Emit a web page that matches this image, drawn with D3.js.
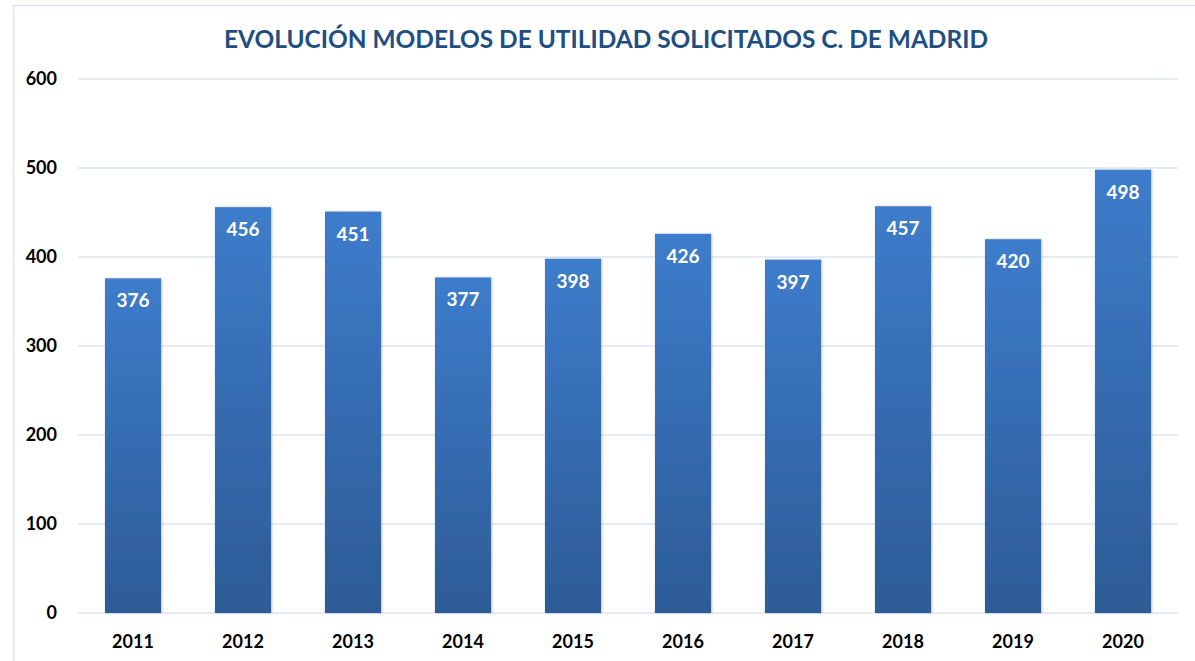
<!DOCTYPE html>
<html>
<head>
<meta charset="utf-8">
<script src="https://cdn.jsdelivr.net/npm/d3@7"></script>
<style>
  body { margin: 0; background: #fff; }
  text { font-family: Lato, "Open Sans", sans-serif; }
</style>
</head>
<body>
<div id="chart"></div>
<script>
var years = ["2011", "2012", "2013", "2014", "2015", "2016", "2017", "2018", "2019", "2020"];
var solicitados = [376, 456, 451, 377, 398, 426, 397, 457, 420, 498];
var yTicks = [0, 100, 200, 300, 400, 500, 600];
var title = "EVOLUCIÓN MODELOS DE UTILIDAD SOLICITADOS C. DE MADRID";

var width = 1195, height = 661;
var margin = {top: 79, right: 17, bottom: 48, left: 78};

var svg = d3.select("#chart").append("svg")
    .attr("width", width)
    .attr("height", height);

var defs = svg.append("defs");
var grad = defs.append("linearGradient")
    .attr("id", "barGrad")
    .attr("x1", 0).attr("y1", 0).attr("x2", 0).attr("y2", 1);
grad.append("stop").attr("offset", "0%").attr("stop-color", "#3d7ccb");
grad.append("stop").attr("offset", "100%").attr("stop-color", "#2d5b96");

var shadow = defs.append("filter").attr("id", "shadow")
    .attr("x", "-20%").attr("y", "-5%").attr("width", "140%").attr("height", "110%");
shadow.append("feDropShadow")
    .attr("dx", 1).attr("dy", 0).attr("stdDeviation", 1.2)
    .attr("flood-color", "#000").attr("flood-opacity", 0.25);

// outer frame
svg.append("rect")
    .attr("x", 13.5).attr("y", 5.5)
    .attr("width", width + 20).attr("height", height + 20)
    .attr("fill", "none")
    .attr("stroke", "#dae3f0")
    .attr("stroke-width", 1.5);

var x = d3.scaleBand()
    .domain(years)
    .range([margin.left, width - margin.right])
    .paddingInner(0.49)
    .paddingOuter(0.245);

var y = d3.scaleLinear()
    .domain([0, 600])
    .range([height - margin.bottom, margin.top]);

// gridlines
svg.append("g")
  .selectAll("line")
  .data(yTicks)
  .join("line")
    .attr("x1", margin.left)
    .attr("x2", width - margin.right)
    .attr("y1", d => y(d))
    .attr("y2", d => y(d))
    .attr("stroke", "#dbe4f1")
    .attr("stroke-width", 1.5);

// y labels
svg.append("g")
  .selectAll("text")
  .data(yTicks)
  .join("text")
    .attr("x", 57)
    .attr("y", d => y(d))
    .attr("dy", "0.35em")
    .attr("text-anchor", "end")
    .attr("font-size", 18)
    .attr("font-weight", "bold")
    .attr("fill", "#000")
    .text(d => d);

// bars
svg.append("g")
  .selectAll("rect")
  .data(solicitados)
  .join("rect")
    .attr("x", (d, i) => x(years[i]))
    .attr("y", d => y(d))
    .attr("width", x.bandwidth())
    .attr("height", d => y(0) - y(d))
    .attr("fill", "url(#barGrad)")
    .attr("filter", "url(#shadow)");

// value labels
svg.append("g")
  .selectAll("text")
  .data(solicitados)
  .join("text")
    .attr("x", (d, i) => x(years[i]) + x.bandwidth() / 2)
    .attr("y", d => y(d) + 29)
    .attr("text-anchor", "middle")
    .attr("font-size", 19)
    .attr("font-weight", "bold")
    .attr("fill", "#fff")
    .text(d => d);

// x labels
svg.append("g")
  .selectAll("text")
  .data(years)
  .join("text")
    .attr("x", d => x(d) + x.bandwidth() / 2)
    .attr("y", 648)
    .attr("text-anchor", "middle")
    .attr("font-size", 18)
    .attr("font-weight", "bold")
    .attr("fill", "#000")
    .text(d => d);

// title
svg.append("text")
    .attr("x", 606)
    .attr("y", 48)
    .attr("text-anchor", "middle")
    .attr("font-size", 25)
    .attr("font-weight", "bold")
    .attr("fill", "#1f4e82")
    .attr("textLength", 764)
    .attr("lengthAdjust", "spacingAndGlyphs")
    .text(title);
</script>
</body>
</html>
